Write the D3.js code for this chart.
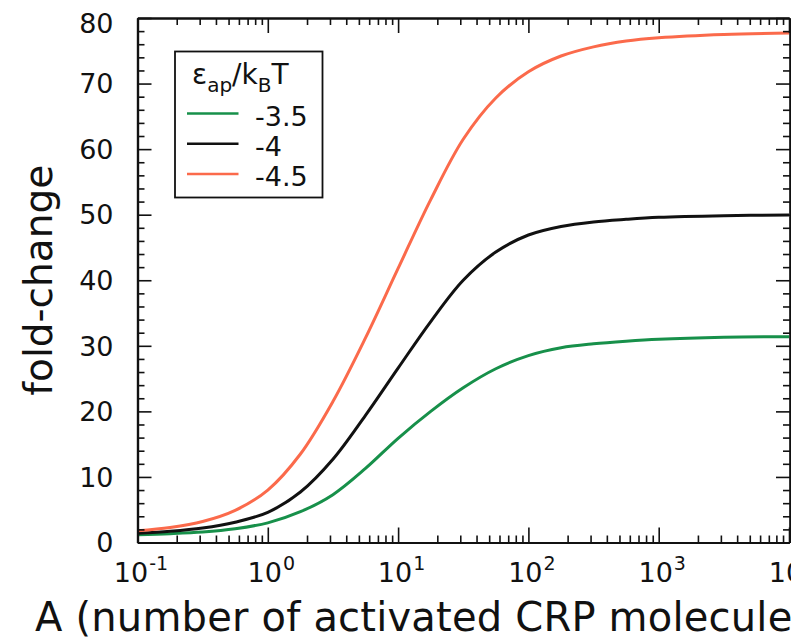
<!DOCTYPE html>
<meta charset="utf-8">
<style>
  body { margin: 0; background: #fff; }
  svg text { font-family: "DejaVu Sans", sans-serif; fill: #111; }
  .axis path, .axis line { stroke: #111; }
  .axis path { stroke-width: 2.2px; }
  .axis line { stroke-width: 1.6px; }
</style>
<body>
<svg id="chart" width="806" height="639"></svg>
<script src="https://d3js.org/d3.v7.min.js"></script>
<script>
// values
var aValues = [0.1, 0.178, 0.316, 0.562, 1, 1.78, 3.16, 5.62, 10, 17.8, 31.6, 56.2, 100, 178, 316, 562, 1000, 3162, 10000];
var foldGreen = [1.2, 1.35, 1.6, 2.1, 3.0, 4.7, 7.3, 11.3, 15.9, 20.0, 23.6, 26.5, 28.5, 29.7, 30.3, 30.7, 31.0, 31.3, 31.4];
var foldBlack = [1.4, 1.7, 2.2, 3.1, 4.6, 7.7, 12.7, 19.4, 26.6, 33.7, 40.0, 44.3, 46.9, 48.2, 48.9, 49.3, 49.6, 49.85, 49.95];
var foldRed   = [1.8, 2.3, 3.2, 4.9, 8.0, 13.5, 21.5, 31.2, 41.8, 52.3, 61.5, 67.8, 71.8, 74.2, 75.6, 76.5, 77.0, 77.5, 77.7];
var seriesNames = ["-3.5", "-4", "-4.5"];
var seriesColors = ["#17904a", "#111111", "#fb6a4b"];
var xMajor = [0.1, 1, 10, 100, 1000, 10000];
var xExp = ["-1", "0", "1", "2", "3", "4"];
var yMajor = [0, 10, 20, 30, 40, 50, 60, 70, 80];

var margin = {left: 137.5, top: 18, right: 789, bottom: 542.5};
var svg = d3.select("#chart");

// the picture is cropped on the right side
svg.append("clipPath").attr("id", "crop")
  .append("rect").attr("x", 0).attr("y", 0).attr("width", 791).attr("height", 639);
var g = svg.append("g").attr("clip-path", "url(#crop)");

var x = d3.scaleLog().domain([0.1, 10000]).range([margin.left, margin.right]);
var y = d3.scaleLinear().domain([0, 80]).range([margin.bottom, margin.top]);

// minor ticks
var xMinor = [];
xMajor.slice(0, -1).forEach(function(d) {
  for (var k = 2; k <= 9; k++) xMinor.push(d * k);
});
var yMinor = d3.range(0, 81, 2).filter(function(d) { return d % 10 != 0; });

// curves
var allSeries = [foldGreen, foldBlack, foldRed];
var line = d3.line()
  .x(function(d) { return x(d[0]); })
  .y(function(d) { return y(d[1]); })
  .curve(d3.curveCatmullRom.alpha(0.5));

allSeries.forEach(function(vals, i) {
  g.append("path")
    .datum(aValues.map(function(a, j) { return [a, vals[j]]; }))
    .attr("fill", "none")
    .attr("stroke", seriesColors[i])
    .attr("stroke-width", 3)
    .attr("d", line);
});

// axes, ticks pointing inward
function addAxis(axis, tx, ty) {
  g.append("g").attr("class", "axis")
    .attr("transform", "translate(" + tx + "," + ty + ")")
    .call(axis)
    .call(function(s) { s.selectAll("text").remove(); });
}
addAxis(d3.axisBottom(x).tickValues(xMinor).tickSize(-7).tickSizeOuter(0), 0, margin.bottom);
addAxis(d3.axisBottom(x).tickValues(xMajor).tickSize(-15).tickSizeOuter(0), 0, margin.bottom);
addAxis(d3.axisTop(x).tickValues(xMinor).tickSize(-7).tickSizeOuter(0), 0, margin.top);
addAxis(d3.axisTop(x).tickValues(xMajor).tickSize(-15).tickSizeOuter(0), 0, margin.top);
addAxis(d3.axisLeft(y).tickValues(yMinor).tickSize(-7).tickSizeOuter(0), margin.left, 0);
addAxis(d3.axisLeft(y).tickValues(yMajor).tickSize(-14).tickSizeOuter(0), margin.left, 0);
addAxis(d3.axisRight(y).tickValues(yMinor).tickSize(-7).tickSizeOuter(0), margin.right + 1, 0);
addAxis(d3.axisRight(y).tickValues(yMajor).tickSize(-14).tickSizeOuter(0), margin.right + 1, 0);

// y tick labels
g.selectAll(".ylab").data(yMajor).enter().append("text")
  .attr("class", "ylab")
  .attr("x", margin.left - 24)
  .attr("y", function(d) { return Math.max(y(d), 23); })
  .attr("dy", "0.36em")
  .attr("text-anchor", "end")
  .style("font-size", "27px")
  .text(function(d) { return d; });

// x tick labels as 10^n, whole label centred on the tick
xMajor.forEach(function(d, i) {
  var lab = g.append("text")
    .attr("y", 582)
    .style("font-size", "27px");
  lab.append("tspan").text("10");
  lab.append("tspan").attr("dy", -12).attr("dx", 1).style("font-size", "19px").text(xExp[i]);
  var w = lab.node().getComputedTextLength();
  lab.attr("x", x(d) - w / 2 + 3);
});

// axis titles
g.append("text")
  .attr("x", 35).attr("y", 631)
  .style("font-size", "40px")
  .style("letter-spacing", "0.2px")
  .text("A (number of activated CRP molecules)");

g.append("text")
  .attr("transform", "translate(52," + ((margin.top + margin.bottom) / 2) + ") rotate(-90)")
  .attr("text-anchor", "middle")
  .style("font-size", "39px")
  .text("fold-change");

// legend
var leg = g.append("g");
leg.append("rect")
  .attr("x", 175).attr("y", 51.5).attr("width", 147.5).attr("height", 146)
  .attr("fill", "#fff").attr("stroke", "#111").attr("stroke-width", 1.8);

var title = leg.append("text").attr("x", 192).attr("y", 84).style("font-size", "28px");
title.append("tspan").text("\u03b5");
title.append("tspan").attr("dy", 8).style("font-size", "20px").text("ap");
title.append("tspan").attr("dy", -8).text("/k");
title.append("tspan").attr("dy", 8).style("font-size", "20px").text("B");
title.append("tspan").attr("dy", -8).text("T");

seriesNames.forEach(function(name, i) {
  var ly = 113.5 + i * 30.3;
  leg.append("line")
    .attr("x1", 187).attr("x2", 238.5)
    .attr("y1", ly).attr("y2", ly)
    .attr("stroke", seriesColors[i]).attr("stroke-width", 2.5);
  leg.append("text")
    .attr("x", 255).attr("y", ly + 2.5).attr("dy", "0.36em")
    .style("font-size", "27px")
    .text(name);
});
</script>
</body>
